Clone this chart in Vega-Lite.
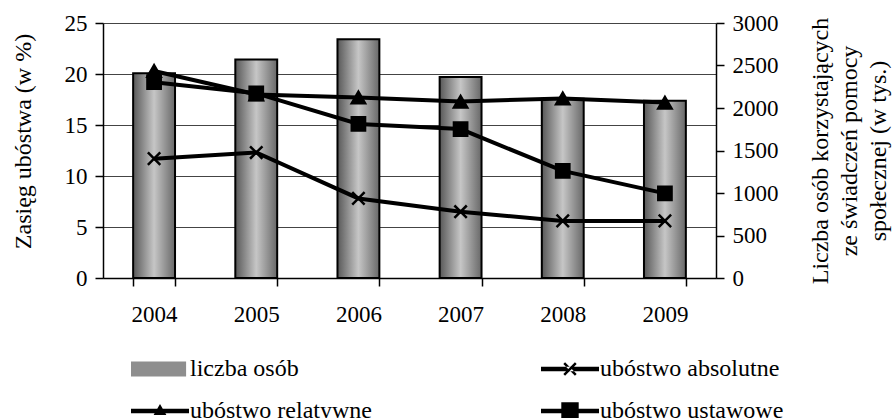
{
  "$schema": "https://vega.github.io/schema/vega-lite/v6.json",
  "width": 613,
  "height": 255,
  "autosize": {"type": "none"},
  "padding": {"left": 103, "top": 23, "right": 180, "bottom": 140},
  "config": {
    "view": {"stroke": null},
    "font": "Liberation Serif",
    "axis": {
      "labelFont": "Liberation Serif",
      "labelFontSize": 23,
      "labelColor": "black",
      "titleFont": "Liberation Serif",
      "titleFontSize": 24,
      "titleFontWeight": "normal",
      "titleColor": "black",
      "domainColor": "black",
      "domainWidth": 1.5,
      "tickColor": "black",
      "tickWidth": 1.5,
      "tickSize": 8
    }
  },
  "datasets": {
    "bars": [
      {"rok": "2004", "liczba": 2410},
      {"rok": "2005", "liczba": 2570},
      {"rok": "2006", "liczba": 2810},
      {"rok": "2007", "liczba": 2365},
      {"rok": "2008", "liczba": 2110},
      {"rok": "2009", "liczba": 2085}
    ],
    "lines": [
      {"rok": "2004", "seria": "ubóstwo absolutne", "wartosc": 11.7},
      {"rok": "2005", "seria": "ubóstwo absolutne", "wartosc": 12.3},
      {"rok": "2006", "seria": "ubóstwo absolutne", "wartosc": 7.8},
      {"rok": "2007", "seria": "ubóstwo absolutne", "wartosc": 6.5},
      {"rok": "2008", "seria": "ubóstwo absolutne", "wartosc": 5.6},
      {"rok": "2009", "seria": "ubóstwo absolutne", "wartosc": 5.6},
      {"rok": "2004", "seria": "ubóstwo relatywne", "wartosc": 20.3},
      {"rok": "2005", "seria": "ubóstwo relatywne", "wartosc": 18.0},
      {"rok": "2006", "seria": "ubóstwo relatywne", "wartosc": 17.7},
      {"rok": "2007", "seria": "ubóstwo relatywne", "wartosc": 17.3},
      {"rok": "2008", "seria": "ubóstwo relatywne", "wartosc": 17.6},
      {"rok": "2009", "seria": "ubóstwo relatywne", "wartosc": 17.2},
      {"rok": "2004", "seria": "ubóstwo ustawowe", "wartosc": 19.2},
      {"rok": "2005", "seria": "ubóstwo ustawowe", "wartosc": 18.1},
      {"rok": "2006", "seria": "ubóstwo ustawowe", "wartosc": 15.1},
      {"rok": "2007", "seria": "ubóstwo ustawowe", "wartosc": 14.6},
      {"rok": "2008", "seria": "ubóstwo ustawowe", "wartosc": 10.5},
      {"rok": "2009", "seria": "ubóstwo ustawowe", "wartosc": 8.3}
    ]
  },
  "layer": [
    {
      "data": {"name": "bars"},
      "mark": {
        "type": "bar",
        "fill": {
          "gradient": "linear",
          "x1": 0, "y1": 0, "x2": 1, "y2": 0,
          "stops": [
            {"offset": 0, "color": "#585858"},
            {"offset": 0.5, "color": "#c6c6c6"},
            {"offset": 1, "color": "#686868"}
          ]
        },
        "stroke": "black",
        "strokeWidth": 2
      },
      "encoding": {
        "x": {
          "field": "rok",
          "type": "ordinal",
          "scale": {"paddingInner": 0.59, "paddingOuter": 0.295},
          "axis": {"title": null, "labelAngle": 0, "tickBand": "extent", "labelPadding": 17, "grid": false}
        },
        "y": {
          "field": "liczba",
          "type": "quantitative",
          "scale": {"domain": [0, 3000], "nice": false},
          "axis": {
            "orient": "right",
            "values": [0, 500, 1000, 1500, 2000, 2500, 3000],
            "format": "d",
            "grid": false,
            "labelPadding": 8,
            "title": ["Liczba osób korzystających", "ze świadczeń pomocy", "społecznej (w tys.)"],
            "titleAngle": 270,
            "titleLineHeight": 29,
            "titlePadding": -4
          }
        }
      }
    },
    {
      "data": {"name": "lines"},
      "encoding": {
        "x": {
          "field": "rok",
          "type": "ordinal",
          "axis": {"title": null, "labelAngle": 0, "tickBand": "extent", "labelPadding": 17, "grid": false}
        },
        "y": {
          "field": "wartosc",
          "type": "quantitative",
          "scale": {"domain": [0, 25], "nice": false},
          "axis": {
            "orient": "left",
            "values": [0, 5, 10, 15, 20, 25],
            "grid": true,
            "gridColor": "#444444",
            "gridWidth": 1,
            "labelPadding": 8,
            "title": "Zasięg ubóstwa (w %)",
            "titlePadding": 29,
            "titleY": 118
          }
        }
      },
      "layer": [
        {
          "mark": {"type": "line", "color": "black", "strokeWidth": 4},
          "encoding": {"detail": {"field": "seria", "type": "nominal"}}
        },
        {
          "transform": [{"filter": "datum.seria === 'ubóstwo relatywne'"}],
          "mark": {"type": "point", "shape": "triangle-up", "filled": true, "fill": "black", "stroke": "black", "strokeWidth": 2, "opacity": 1, "size": 200}
        },
        {
          "transform": [{"filter": "datum.seria === 'ubóstwo ustawowe'"}],
          "mark": {"type": "point", "shape": "square", "filled": true, "fill": "black", "stroke": "black", "strokeWidth": 2, "opacity": 1, "size": 190}
        },
        {
          "transform": [{"filter": "datum.seria === 'ubóstwo absolutne'"}],
          "mark": {"type": "point", "shape": "M-0.9,-0.9L0.9,0.9M-0.9,0.9L0.9,-0.9", "filled": false, "fill": null, "stroke": "black", "strokeWidth": 2.5, "opacity": 1, "size": 190}
        },
        {
          "mark": {"type": "point", "filled": true, "stroke": "black", "strokeWidth": 2, "opacity": 0, "size": 10},
          "encoding": {
            "shape": {
              "field": "seria",
              "type": "nominal",
              "scale": {
                "domain": ["liczba osób", "ubóstwo relatywne", "ubóstwo absolutne", "ubóstwo ustawowe"],
                "range": [
                  "M-1,-0.26H0.9V0.26H-1Z",
                  "M-1,-0.075H1V0.075H-1ZM-0.22,0.14L0,-0.24L0.22,0.14Z",
                  "M-1,-0.075H1V0.075H-1ZM-0.23,-0.17L0.17,0.23L0.23,0.17L-0.17,-0.23ZM-0.17,0.23L-0.23,0.17L0.17,-0.23L0.23,-0.17Z",
                  "M-1,-0.075H1V0.075H-1ZM-0.3,-0.3H0.3V0.3H-0.3Z"
                ]
              },
              "legend": {
                "orient": "none",
                "legendX": 27,
                "legendY": 316,
                "columns": 2,
                "columnPadding": 165,
                "rowPadding": -28,
                "padding": 0,
                "title": null,
                "symbolSize": 3364,
                "symbolOpacity": 1,
                "symbolStrokeColor": "black",
                "symbolStrokeWidth": 2,
                "labelFont": "Liberation Serif",
                "labelFontSize": 24,
                "labelColor": "black",
                "labelOffset": 0,
                "labelLimit": 400
              }
            },
            "fill": {
              "field": "seria",
              "type": "nominal",
              "scale": {
                "domain": ["liczba osób", "ubóstwo relatywne", "ubóstwo absolutne", "ubóstwo ustawowe"],
                "range": ["#8e8e8e", "black", "black", "black"]
              },
              "legend": {
                "orient": "none",
                "legendX": 27,
                "legendY": 316,
                "columns": 2,
                "columnPadding": 165,
                "rowPadding": -28,
                "padding": 0,
                "title": null,
                "symbolSize": 3364,
                "symbolOpacity": 1,
                "symbolStrokeColor": "black",
                "symbolStrokeWidth": 2,
                "labelFont": "Liberation Serif",
                "labelFontSize": 24,
                "labelColor": "black",
                "labelOffset": 0,
                "labelLimit": 400
              }
            }
          }
        }
      ]
    }
  ],
  "resolve": {"scale": {"y": "independent"}}
}
